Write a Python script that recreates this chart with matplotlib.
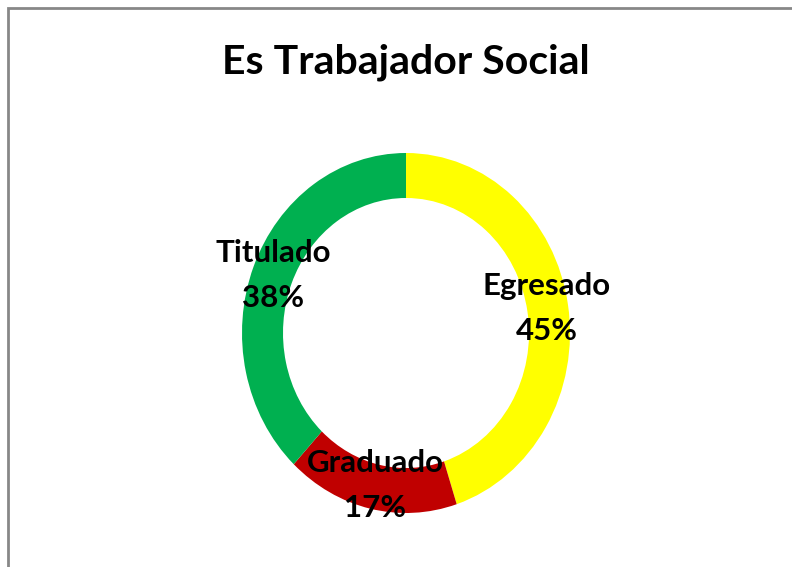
import matplotlib.pyplot as plt
from matplotlib.patches import Rectangle

categories = ['Egresado', 'Graduado', 'Titulado']
values = [45, 17, 38]
colors = ['#FFFF00', '#C00000', '#00B050']

plt.rcParams['font.family'] = ['Lato', 'DejaVu Sans']

fig = plt.figure(figsize=(7.92, 5.67), dpi=100)

# chart frame, only left and top edges are visible in the crop
fig.patches.append(Rectangle((8 / 792, -0.1), 1.2, (567 - 8) / 567 + 0.1,
                             transform=fig.transFigure, fill=False,
                             edgecolor='#878787', linewidth=2))

fig.text(406 / 792, 1 - 62 / 567, 'Es Trabajador Social', ha='center', va='center',
         fontsize=29.5, fontweight='bold')

ax = fig.add_axes([242 / 792, 54 / 567, 328 / 792, 360 / 567])
labels = [f'{c}\n{v}%' for c, v in zip(categories, values)]
wedges, texts = ax.pie(values, colors=colors, startangle=90, counterclock=False,
                       radius=1, labels=labels, labeldistance=0.87,
                       wedgeprops=dict(width=0.25, linewidth=0),
                       textprops=dict(fontsize=22.5, fontweight='bold', linespacing=1.75))
for t in texts:
    t.set_horizontalalignment('center')
    t.set_verticalalignment('center')
ax.set_aspect('auto')
ax.set_xlim(-1, 1)
ax.set_ylim(-1, 1)

fig.savefig('out.png', dpi=100)
